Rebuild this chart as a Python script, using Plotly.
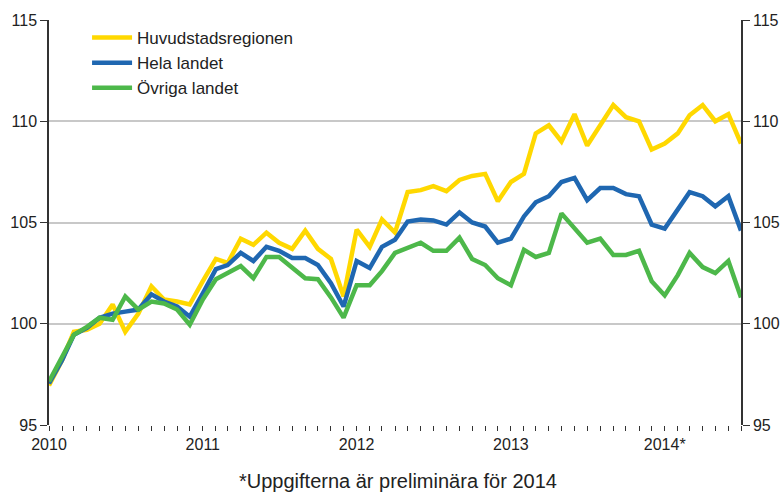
import pandas as pd
import plotly.graph_objects as go

months = pd.date_range("2010-01-01", "2014-07-01", freq="MS")

huvudstad = [96.95, 98.2, 99.6, 99.7, 100.0, 100.95, 99.6, 100.5, 101.85, 101.2,
             101.1, 100.95, 102.1, 103.2, 103.0, 104.2, 103.9, 104.5, 104.0, 103.7,
             104.6, 103.7, 103.2, 101.35, 104.65, 103.8, 105.15, 104.5, 106.5, 106.6,
             106.8, 106.55, 107.1, 107.3, 107.4, 106.05, 107.0, 107.4, 109.4, 109.8,
             109.0, 110.35, 108.8, 109.8, 110.8, 110.2, 110.0, 108.6, 108.9, 109.4,
             110.3, 110.8, 110.0, 110.35, 108.9]

hela = [97.05, 98.2, 99.45, 99.8, 100.3, 100.5, 100.6, 100.7, 101.45, 101.1,
        100.85, 100.35, 101.5, 102.7, 102.9, 103.5, 103.1, 103.8, 103.6, 103.25,
        103.25, 102.9, 102.0, 100.85, 103.1, 102.75, 103.8, 104.15, 105.05, 105.15,
        105.1, 104.9, 105.5, 105.0, 104.8, 104.0, 104.2, 105.3, 106.0, 106.3,
        107.0, 107.2, 106.1, 106.7, 106.7, 106.4, 106.3, 104.9, 104.7, 105.6,
        106.5, 106.3, 105.8, 106.3, 104.6]

ovriga = [97.15, 98.4, 99.45, 99.85, 100.3, 100.2, 101.35, 100.7, 101.1, 101.0,
          100.7, 99.95, 101.2, 102.2, 102.5, 102.85, 102.25, 103.3, 103.3, 102.75,
          102.25, 102.2, 101.3, 100.3, 101.9, 101.9, 102.6, 103.5, 103.75, 104.0,
          103.6, 103.6, 104.25, 103.2, 102.9, 102.25, 101.9, 103.65, 103.3, 103.5,
          105.45, 104.7, 104.0, 104.2, 103.4, 103.4, 103.6, 102.1, 101.4, 102.4,
          103.5, 102.8, 102.5, 103.1, 101.3]

series_names = ["Huvudstadsregionen", "Hela landet", "Övriga landet"]
series_colors = ["#FFD800", "#1F67B1", "#4DB84A"]
series_axes = ["y", "y", "y2"]

year_ticks = ["2010-01-01", "2011-01-01", "2012-01-01", "2013-01-01", "2014-01-01"]
year_labels = ["2010", "2011", "2012", "2013", "2014*"]
y_ticks = [95, 100, 105, 110, 115]

FONT = "Liberation Sans, Arial, sans-serif"

fig = go.Figure()
for name, vals, col, ax in zip(series_names, [huvudstad, hela, ovriga], series_colors, series_axes):
    fig.add_trace(go.Scatter(x=months, y=vals, name=name, mode="lines", yaxis=ax,
                             line=dict(color=col, width=4.5), hoverinfo="skip"))

yax_common = dict(
    range=[95, 115], tickvals=y_ticks,
    ticks="outside", ticklen=7, tickcolor="#333", tickwidth=1,
    showline=True, linecolor="#333", linewidth=1.5,
    zeroline=False, tickfont=dict(size=16), automargin=False,
)

fig.update_layout(
    width=782, height=495,
    margin=dict(l=49, r=41, t=20, b=70),
    paper_bgcolor="white", plot_bgcolor="white",
    font=dict(family=FONT, size=15, color="#222"),
    showlegend=True,
    legend=dict(x=0.055, y=1.0, xanchor="left", yanchor="top",
                bgcolor="white", font=dict(size=17),
                tracegroupgap=0, itemwidth=40),
    xaxis=dict(
        type="date",
        range=[months[0], months[-1]],
        tickvals=year_ticks, ticktext=year_labels,
        ticks="outside", ticklen=5, tickcolor="#333",
        showgrid=False, showline=False, zeroline=False,
        minor=dict(dtick="M1", tick0="2010-01-01", ticks="outside", ticklen=5, tickcolor="#333", showgrid=False),
        tickfont=dict(size=16), automargin=False,
    ),
    yaxis=dict(showgrid=True, gridcolor="#C8C8C8", gridwidth=1.5, **yax_common),
    yaxis2=dict(overlaying="y", side="right", showgrid=False, **yax_common),
    annotations=[dict(text="*Uppgifterna är preliminära för 2014", xref="paper", yref="paper",
                      x=0.505, y=-0.138, xanchor="center", yanchor="middle", showarrow=False,
                      font=dict(size=20))],
)

fig.write_html("out.html", config={"displayModeBar": False},
               post_script="document.body.style.margin='0';document.body.style.overflow='hidden';")
